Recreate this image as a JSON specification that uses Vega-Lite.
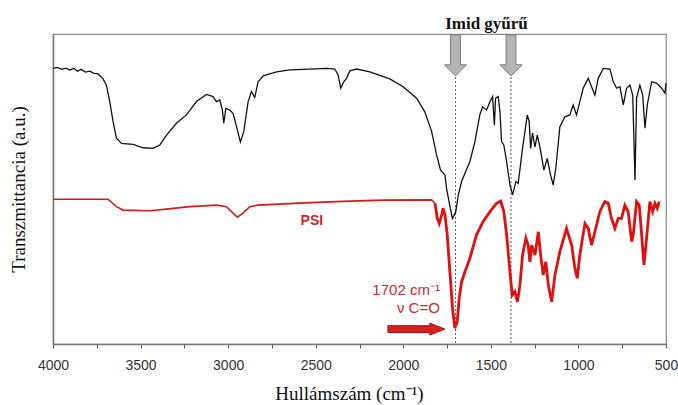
{
  "$schema": "https://vega.github.io/schema/vega-lite/v6.json",
  "width": 613,
  "height": 310,
  "autosize": {"type": "none"},
  "padding": {"left": 53, "top": 34, "right": 12, "bottom": 61},
  "background": "white",
  "config": {
    "view": {"stroke": "#8a8a8a", "strokeWidth": 1.2},
    "axis": {"grid": false}
  },
  "datasets": {
    "black": [
      {"wn": 4000, "T": 88.9}, {"wn": 3975, "T": 89.2}, {"wn": 3950, "T": 88.6}, {"wn": 3925, "T": 89.0},
      {"wn": 3905, "T": 88.4}, {"wn": 3880, "T": 88.9}, {"wn": 3860, "T": 88.0}, {"wn": 3840, "T": 88.6},
      {"wn": 3815, "T": 87.7}, {"wn": 3790, "T": 88.0}, {"wn": 3765, "T": 87.3}, {"wn": 3745, "T": 87.2},
      {"wn": 3733, "T": 86.6}, {"wn": 3715, "T": 85.6}, {"wn": 3695, "T": 83.5}, {"wn": 3676, "T": 78.2},
      {"wn": 3657, "T": 71.7}, {"wn": 3638, "T": 66.4}, {"wn": 3609, "T": 64.7}, {"wn": 3543, "T": 64.4},
      {"wn": 3486, "T": 63.3}, {"wn": 3429, "T": 63.1}, {"wn": 3390, "T": 64.2}, {"wn": 3352, "T": 67.4},
      {"wn": 3295, "T": 71.2}, {"wn": 3238, "T": 73.9}, {"wn": 3181, "T": 78.2}, {"wn": 3124, "T": 80.5},
      {"wn": 3086, "T": 79.8}, {"wn": 3067, "T": 78.2}, {"wn": 3048, "T": 78.7}, {"wn": 3033, "T": 75.5},
      {"wn": 3025, "T": 71.2}, {"wn": 3013, "T": 76.0}, {"wn": 2991, "T": 75.5}, {"wn": 2972, "T": 74.4},
      {"wn": 2952, "T": 70.1}, {"wn": 2930, "T": 65.1}, {"wn": 2911, "T": 68.5}, {"wn": 2886, "T": 78.2},
      {"wn": 2867, "T": 81.4}, {"wn": 2848, "T": 79.5}, {"wn": 2829, "T": 84.6}, {"wn": 2800, "T": 86.5},
      {"wn": 2724, "T": 87.8}, {"wn": 2648, "T": 88.4}, {"wn": 2534, "T": 88.7}, {"wn": 2438, "T": 88.9},
      {"wn": 2391, "T": 88.7}, {"wn": 2372, "T": 86.8}, {"wn": 2357, "T": 82.5}, {"wn": 2340, "T": 84.6},
      {"wn": 2324, "T": 85.7}, {"wn": 2305, "T": 88.1}, {"wn": 2267, "T": 88.7}, {"wn": 2191, "T": 87.8},
      {"wn": 2077, "T": 85.5}, {"wn": 2001, "T": 83.0}, {"wn": 1924, "T": 79.3}, {"wn": 1877, "T": 74.9},
      {"wn": 1838, "T": 68.5}, {"wn": 1810, "T": 61.0}, {"wn": 1787, "T": 56.1}, {"wn": 1772, "T": 55.1},
      {"wn": 1762, "T": 54.5}, {"wn": 1753, "T": 50.2}, {"wn": 1734, "T": 44.5}, {"wn": 1719, "T": 40.5},
      {"wn": 1700, "T": 42.7}, {"wn": 1686, "T": 48.1}, {"wn": 1667, "T": 52.4}, {"wn": 1648, "T": 55.1},
      {"wn": 1620, "T": 58.8}, {"wn": 1591, "T": 65.3}, {"wn": 1563, "T": 73.9}, {"wn": 1547, "T": 76.5},
      {"wn": 1524, "T": 75.5}, {"wn": 1505, "T": 78.2}, {"wn": 1490, "T": 79.8}, {"wn": 1480, "T": 70.6},
      {"wn": 1473, "T": 79.3}, {"wn": 1458, "T": 79.8}, {"wn": 1448, "T": 74.9}, {"wn": 1439, "T": 65.3},
      {"wn": 1426, "T": 64.2}, {"wn": 1410, "T": 58.8}, {"wn": 1391, "T": 51.3}, {"wn": 1376, "T": 48.1},
      {"wn": 1357, "T": 52.4}, {"wn": 1344, "T": 51.8}, {"wn": 1319, "T": 63.1}, {"wn": 1292, "T": 73.9},
      {"wn": 1281, "T": 71.7}, {"wn": 1273, "T": 63.1}, {"wn": 1262, "T": 68.0}, {"wn": 1248, "T": 63.6},
      {"wn": 1235, "T": 67.4}, {"wn": 1220, "T": 63.6}, {"wn": 1197, "T": 56.1}, {"wn": 1178, "T": 59.9},
      {"wn": 1159, "T": 54.5}, {"wn": 1144, "T": 51.3}, {"wn": 1129, "T": 56.7}, {"wn": 1106, "T": 70.1},
      {"wn": 1077, "T": 73.3}, {"wn": 1049, "T": 73.9}, {"wn": 1030, "T": 77.1}, {"wn": 1011, "T": 73.9},
      {"wn": 992, "T": 78.2}, {"wn": 973, "T": 82.5}, {"wn": 944, "T": 85.7}, {"wn": 925, "T": 83.0},
      {"wn": 906, "T": 80.3}, {"wn": 887, "T": 85.7}, {"wn": 858, "T": 88.9}, {"wn": 820, "T": 88.7},
      {"wn": 801, "T": 84.6}, {"wn": 782, "T": 82.5}, {"wn": 763, "T": 83.0}, {"wn": 744, "T": 77.1},
      {"wn": 725, "T": 82.5}, {"wn": 706, "T": 83.5}, {"wn": 690, "T": 80.3}, {"wn": 677, "T": 52.9},
      {"wn": 668, "T": 79.3}, {"wn": 649, "T": 83.5}, {"wn": 633, "T": 80.3}, {"wn": 620, "T": 69.6},
      {"wn": 607, "T": 77.1}, {"wn": 582, "T": 84.6}, {"wn": 553, "T": 84.1}, {"wn": 525, "T": 82.5},
      {"wn": 506, "T": 80.9}, {"wn": 500, "T": 84.2}
    ],
    "red": [
      {"wn": 4000, "T": 46.7}, {"wn": 3686, "T": 46.7}, {"wn": 3638, "T": 44.3}, {"wn": 3600, "T": 43.2},
      {"wn": 3448, "T": 43.0}, {"wn": 3352, "T": 43.5}, {"wn": 3219, "T": 44.3}, {"wn": 3067, "T": 44.8},
      {"wn": 3010, "T": 44.3}, {"wn": 2972, "T": 42.2}, {"wn": 2947, "T": 40.9}, {"wn": 2915, "T": 42.2},
      {"wn": 2876, "T": 44.3}, {"wn": 2829, "T": 44.8}, {"wn": 2686, "T": 45.2}, {"wn": 2495, "T": 45.7},
      {"wn": 2305, "T": 46.1}, {"wn": 2115, "T": 46.4}, {"wn": 1838, "T": 46.5}, {"wn": 1819, "T": 45.4},
      {"wn": 1806, "T": 40.5}, {"wn": 1795, "T": 38.9}, {"wn": 1781, "T": 41.6}, {"wn": 1773, "T": 43.8},
      {"wn": 1762, "T": 41.6}, {"wn": 1749, "T": 35.2}, {"wn": 1734, "T": 23.3}, {"wn": 1719, "T": 11.5},
      {"wn": 1706, "T": 5.1}, {"wn": 1692, "T": 7.2}, {"wn": 1681, "T": 14.7}, {"wn": 1667, "T": 20.1},
      {"wn": 1648, "T": 23.3}, {"wn": 1620, "T": 27.6}, {"wn": 1582, "T": 35.2}, {"wn": 1544, "T": 39.5},
      {"wn": 1505, "T": 42.7}, {"wn": 1467, "T": 45.4}, {"wn": 1444, "T": 46.1}, {"wn": 1426, "T": 42.7},
      {"wn": 1410, "T": 35.2}, {"wn": 1391, "T": 23.3}, {"wn": 1378, "T": 15.8}, {"wn": 1363, "T": 16.9},
      {"wn": 1348, "T": 13.6}, {"wn": 1334, "T": 19.0}, {"wn": 1319, "T": 28.7}, {"wn": 1300, "T": 34.1},
      {"wn": 1287, "T": 31.9}, {"wn": 1277, "T": 26.5}, {"wn": 1267, "T": 31.9}, {"wn": 1248, "T": 28.7},
      {"wn": 1229, "T": 36.2}, {"wn": 1216, "T": 28.7}, {"wn": 1201, "T": 22.3}, {"wn": 1186, "T": 26.5},
      {"wn": 1172, "T": 19.0}, {"wn": 1153, "T": 13.6}, {"wn": 1134, "T": 22.3}, {"wn": 1106, "T": 29.8},
      {"wn": 1068, "T": 37.3}, {"wn": 1039, "T": 31.9}, {"wn": 1020, "T": 24.4}, {"wn": 1007, "T": 21.2},
      {"wn": 992, "T": 28.7}, {"wn": 963, "T": 38.9}, {"wn": 944, "T": 37.3}, {"wn": 925, "T": 31.9},
      {"wn": 906, "T": 36.2}, {"wn": 878, "T": 42.7}, {"wn": 849, "T": 45.9}, {"wn": 830, "T": 45.4},
      {"wn": 811, "T": 40.5}, {"wn": 792, "T": 37.3}, {"wn": 773, "T": 40.5}, {"wn": 754, "T": 40.5},
      {"wn": 735, "T": 44.8}, {"wn": 716, "T": 42.7}, {"wn": 696, "T": 33.0}, {"wn": 687, "T": 35.2},
      {"wn": 668, "T": 45.9}, {"wn": 653, "T": 44.8}, {"wn": 639, "T": 35.2}, {"wn": 626, "T": 25.5},
      {"wn": 611, "T": 34.1}, {"wn": 592, "T": 45.9}, {"wn": 576, "T": 42.7}, {"wn": 563, "T": 45.4},
      {"wn": 550, "T": 43.8}, {"wn": 539, "T": 45.9}
    ],
    "marks": [
      {"wn": 1702, "top": 86.1, "bottom": 0, "arrowT": 93.1},
      {"wn": 1385, "top": 86.1, "bottom": 0, "arrowT": 93.1}
    ]
  },
  "layer": [
    {
      "data": {"name": "marks"},
      "mark": {"type": "rule", "color": "#555555", "strokeWidth": 1, "strokeDash": [2, 2]},
      "encoding": {
        "x": {"field": "wn", "type": "quantitative"},
        "y": {"field": "top", "type": "quantitative"},
        "y2": {"field": "bottom"}
      }
    },
    {
      "data": {"name": "black"},
      "mark": {"type": "line", "color": "#111111", "strokeWidth": 1.3},
      "encoding": {
        "x": {
          "field": "wn", "type": "quantitative",
          "scale": {"domain": [500, 4000], "reverse": true, "nice": false, "zero": false},
          "axis": {
            "values": [500, 750, 1000, 1250, 1500, 1750, 2000, 2250, 2500, 2750, 3000, 3250, 3500, 3750, 4000],
            "labelExpr": "datum.value % 500 === 0 ? format(datum.value, 'd') : ''",
            "labelOverlap": false,
            "labelFlush": false,
            "labelFont": "Liberation Sans",
            "labelFontSize": 14,
            "labelColor": "#333333",
            "labelPadding": 10,
            "tickColor": "#555555",
            "tickSize": 4,
            "domainColor": "#777777",
            "domainWidth": 1.5,
            "title": "Hullámszám (cm⁻¹)",
            "titleFont": "Liberation Serif",
            "titleFontSize": 19,
            "titleFontWeight": "normal",
            "titleColor": "#111111",
            "titlePadding": 12,
            "titleX": 296
          }
        },
        "y": {
          "field": "T", "type": "quantitative",
          "scale": {"domain": [0, 100], "nice": false, "zero": false},
          "axis": {
            "ticks": false,
            "labels": false,
            "domainColor": "#777777",
            "domainWidth": 1.5,
            "title": "Transzmittancia (a.u.)",
            "titleFont": "Liberation Serif",
            "titleFontSize": 19,
            "titleFontWeight": "normal",
            "titleColor": "#111111",
            "titlePadding": 25
          }
        },
        "order": {"field": "wn", "sort": "descending"}
      }
    },
    {
      "data": {"name": "red"},
      "transform": [{"filter": "datum.wn >= 1819"}],
      "mark": {"type": "line", "color": "#d41a1a", "strokeWidth": 1.6},
      "encoding": {
        "x": {"field": "wn", "type": "quantitative"},
        "y": {"field": "T", "type": "quantitative"},
        "order": {"field": "wn", "sort": "descending"}
      }
    },
    {
      "data": {"name": "red"},
      "transform": [{"filter": "datum.wn <= 1819"}],
      "mark": {"type": "line", "color": "#e01010", "strokeWidth": 2.8},
      "encoding": {
        "x": {"field": "wn", "type": "quantitative"},
        "y": {"field": "T", "type": "quantitative"},
        "order": {"field": "wn", "sort": "descending"}
      }
    },
    {
      "data": {"name": "marks"},
      "mark": {
        "type": "point",
        "shape": "M-0.24,-1L0.24,-1L0.24,0.46L0.54,0.46L0,1L-0.54,0.46L-0.24,0.46Z",
        "size": 1681,
        "filled": true,
        "fill": "#b5b5b5",
        "stroke": "#7a7a7a",
        "strokeWidth": 1,
        "opacity": 1
      },
      "encoding": {
        "x": {"field": "wn", "type": "quantitative"},
        "y": {"field": "arrowT", "type": "quantitative"}
      }
    },
    {
      "data": {"values": [{"wn": 1525, "T": 103.2, "label": "Imid gyűrű"}]},
      "mark": {"type": "text", "font": "Liberation Serif", "fontSize": 17, "fontWeight": "bold", "color": "#111111", "baseline": "middle", "align": "center"},
      "encoding": {
        "x": {"field": "wn", "type": "quantitative"},
        "y": {"field": "T", "type": "quantitative"},
        "text": {"field": "label"}
      }
    },
    {
      "data": {"values": [{"wn": 2522, "T": 39.7, "label": "PSI"}]},
      "mark": {"type": "text", "font": "Liberation Sans", "fontSize": 14, "fontWeight": "bold", "color": "#c8282d", "baseline": "middle", "align": "center"},
      "encoding": {
        "x": {"field": "wn", "type": "quantitative"},
        "y": {"field": "T", "type": "quantitative"},
        "text": {"field": "label"}
      }
    },
    {
      "data": {"values": [
        {"wn": 1791, "T": 17.4, "label": "1702 cm⁻¹"},
        {"wn": 1791, "T": 11.6, "label": "ν C=O"}
      ]},
      "mark": {"type": "text", "font": "Liberation Sans", "fontSize": 15, "color": "#c8282d", "baseline": "middle", "align": "right"},
      "encoding": {
        "x": {"field": "wn", "type": "quantitative"},
        "y": {"field": "T", "type": "quantitative"},
        "text": {"field": "label"}
      }
    },
    {
      "data": {"values": [{"wn": 1925, "T": 4.8}]},
      "mark": {
        "type": "point",
        "shape": "M-1,-0.12L0.47,-0.12L0.47,-0.21L1,0L0.47,0.21L0.47,0.12L-1,0.12Z",
        "size": 3249,
        "filled": true,
        "fill": "#d42020",
        "stroke": "#a01010",
        "strokeWidth": 1,
        "opacity": 1
      },
      "encoding": {
        "x": {"field": "wn", "type": "quantitative"},
        "y": {"field": "T", "type": "quantitative"}
      }
    }
  ]
}
